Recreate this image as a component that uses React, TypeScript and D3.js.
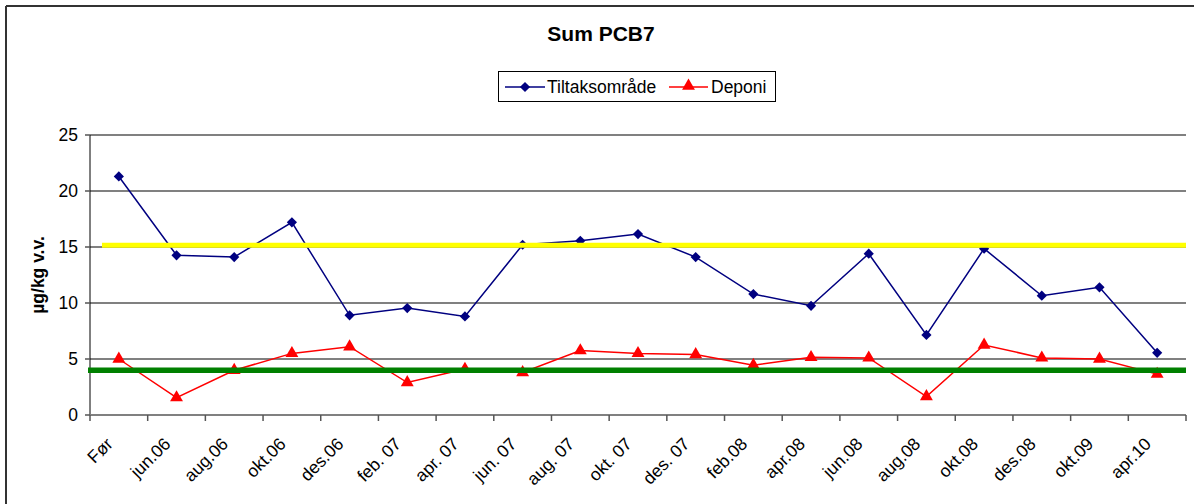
import React from "react";
import * as d3 from "d3";

const categories = ["Før","jun.06","aug.06","okt.06","des.06","feb. 07","apr. 07","jun. 07","aug. 07","okt. 07","des. 07","feb.08","apr.08","jun.08","aug.08","okt.08","des.08","okt.09","apr.10"];
const tiltak = [21.3,14.26,14.1,17.2,8.9,9.55,8.8,15.2,15.55,16.15,14.1,10.8,9.75,14.4,7.15,14.85,10.65,11.4,5.55];
const deponi = [5.0,1.55,4.0,5.5,6.1,2.9,4.1,3.8,5.75,5.5,5.4,4.45,5.15,5.1,1.65,6.25,5.1,5.0,3.65];
const yTicks = [0,5,10,15,20,25];
const yellowLevel = 15.15;
const greenLevel = 4.0;

const FONT = "'Liberation Sans', Arial, sans-serif";

export default function App() {
  const W = 1194, H = 504;
  const left = 90, right = 1186, top = 135, bottom = 415;
  const x = d3.scaleBand<string>().domain(categories).range([left, right]);
  const y = d3.scaleLinear().domain([0, 25]).range([bottom, top]);
  const cx = (c: string) => (x(c) as number) + x.bandwidth() / 2;
  const line = d3.line<number>().x((_, i) => cx(categories[i])).y(d => y(d));
  const diamond = d3.symbol().type(d3.symbolSquare).size(52)() as string;
  const tri = d3.symbol().type(d3.symbolTriangle).size(72)() as string;
  const tickPositions = categories.map(c => x(c) as number).concat([right]);

  return (
    <svg width={W} height={H} style={{ display: "block", position: "absolute", left: 0, top: 0 }} fontFamily={FONT}>
      <rect x={0} y={0} width={W} height={H} fill="#fff" />
      {/* outer frame */}
      <line x1={6} y1={6} x2={W} y2={6} stroke="#333" strokeWidth={2} />
      <line x1={6} y1={6} x2={6} y2={H} stroke="#333" strokeWidth={2} />
      {/* title */}
      <text x={601} y={41} textAnchor="middle" fontSize={21} fontWeight="bold">Sum PCB7</text>
      {/* legend */}
      <rect x={498.5} y={71.5} width={277} height={30} fill="#fff" stroke="#000" strokeWidth={1} />
      <line x1={505} x2={545} y1={87} y2={87} stroke="#000080" strokeWidth={1.5} />
      <path d={diamond} transform="translate(525,87) rotate(45)" fill="#000080" />
      <text x={547} y={93} fontSize={17.5}>Tiltaksområde</text>
      <line x1={669} x2={708} y1={87} y2={87} stroke="#ff0000" strokeWidth={1.5} />
      <path d={tri} transform="translate(688.5,86)" fill="#ff0000" />
      <text x={711} y={93} fontSize={17.5}>Deponi</text>
      {/* gridlines */}
      {yTicks.filter(t => t > 0).map(t => (
        <line key={t} x1={left} x2={right} y1={y(t)} y2={y(t)} stroke="#808080" strokeWidth={2} />
      ))}
      {/* y axis */}
      <line x1={left} x2={left} y1={top} y2={bottom} stroke="#000" strokeWidth={1} />
      {yTicks.map(t => (
        <g key={t}>
          <line x1={left - 5} x2={left} y1={y(t)} y2={y(t)} stroke="#555" strokeWidth={1.5} />
          <text x={78} y={y(t) + 6} textAnchor="end" fontSize={17.5}>{t}</text>
        </g>
      ))}
      <text transform={`translate(44,275) rotate(-90)`} textAnchor="middle" fontSize={17.5} fontWeight="bold">µg/kg v.v.</text>
      {/* x axis */}
      <line x1={left} x2={right} y1={bottom} y2={bottom} stroke="#808080" strokeWidth={2} />
      {tickPositions.map((p, i) => (
        <line key={i} x1={p} x2={p} y1={bottom} y2={bottom + 6} stroke="#555" strokeWidth={1.5} />
      ))}
      {categories.map(c => (
        <text key={c} transform={`translate(${cx(c) - 5},${bottom + 30}) rotate(-45)`} textAnchor="end" fontSize={17.5}>{c}</text>
      ))}
      {/* series */}
      <path d={line(tiltak) as string} fill="none" stroke="#000080" strokeWidth={1.5} />
      {tiltak.map((v, i) => (
        <path key={i} d={diamond} transform={`translate(${cx(categories[i])},${y(v)}) rotate(45)`} fill="#000080" />
      ))}
      <path d={line(deponi) as string} fill="none" stroke="#ff0000" strokeWidth={1.5} />
      {deponi.map((v, i) => (
        <path key={i} d={tri} transform={`translate(${cx(categories[i])},${y(v)})`} fill="#ff0000" />
      ))}
      {/* reference lines */}
      <line x1={102} x2={right} y1={y(yellowLevel)} y2={y(yellowLevel)} stroke="#ffff00" strokeWidth={5} />
      <line x1={88} x2={right} y1={y(greenLevel)} y2={y(greenLevel)} stroke="#008000" strokeWidth={5.5} />
    </svg>
  );
}
